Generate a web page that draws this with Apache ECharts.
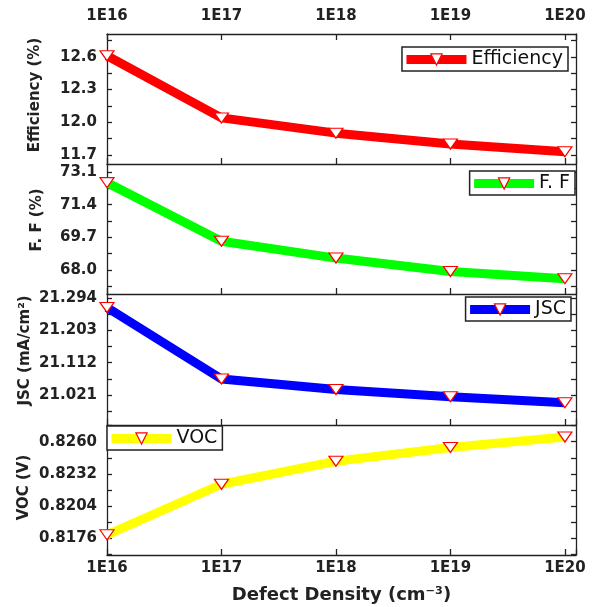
<!DOCTYPE html>
<html><head><meta charset="utf-8">
<script src="https://cdn.jsdelivr.net/npm/echarts@6/dist/echarts.min.js"></script>
<style>html,body{margin:0;padding:0;background:#fff}#c{width:597px;height:607px}</style>
</head><body><div id="c"></div>
<script>
// ---- data ----
const defectDensity = [1e16, 1e17, 1e18, 1e19, 1e20];
const efficiency = [12.61, 12.04, 11.90, 11.80, 11.73];
const fillFactor = [72.55, 69.50, 68.62, 67.92, 67.55];
const jsc = [21.268, 21.066, 21.036, 21.016, 20.999];
const voc = [0.8179, 0.8223, 0.8243, 0.8255, 0.8264];
const effTicks = [11.7, 12.0, 12.3, 12.6];
const ffTicks = [68.0, 69.7, 71.4, 73.1];
const jscTicks = [21.021, 21.112, 21.203, 21.294];
const vocTicks = [0.8176, 0.8204, 0.8232, 0.8260];
const seriesNames = ['Efficiency', 'F. F', 'JSC', 'VOC'];
const yNames = ['Efficiency (%)', 'F. F (%)', 'JSC (mA/cm²)', 'VOC (V)'];
const xName = 'Defect Density (cm⁻³)';

// ---- layout / style ----
const xMin = 1e16, xMax = 1.25e20;
const FONT = 'DejaVu Sans';
const panels = [
  {vals: efficiency, ticks: effTicks, dec: 1, min: 11.617, max: 12.81, color: '#ff0000', top: 34, h: 130, gap: 64, shift: 8,
   legend: {right: 29, top: 47}},
  {vals: fillFactor, ticks: ffTicks, dec: 1, min: 66.75, max: 73.52, color: '#00ff00', top: 164, h: 130, gap: 62, shift: 18,
   legend: {right: 22, top: 171}},
  {vals: jsc, ticks: jscTicks, dec: 3, min: 20.936, max: 21.306, color: '#0000ff', top: 294, h: 131, gap: 74, shift: 18,
   legend: {right: 26, top: 297}},
  {vals: voc, ticks: vocTicks, dec: 4, min: 0.81615, max: 0.82745, color: '#ffff00', top: 425, h: 130, gap: 75, shift: 5,
   legend: {left: 107, top: 426}}
];
const lineCfg = {color: '#222', width: 1.3};
const fmtX = v => { const e = Math.log10(v); const r = Math.round(e); return Math.abs(e - r) < 1e-6 ? '1E' + r : ''; };

function allTicks(t, min, max) {
  const step = t[1] - t[0];
  const out = [];
  for (let i = 0; i < t.length; i++) { out.push(t[i]); out.push(t[i] - step / 2); }
  out.push(t[t.length - 1] + step / 2);
  return out.filter(v => v > min && v < max);
}

const grid = [], xAxis = [], yAxis = [], series = [], legend = [];
panels.forEach((p, i) => {
  grid.push({left: 107, right: 21, top: p.top, height: p.h, outerBoundsMode: 'none', containLabel: false});
  const xBase = {
    type: 'log', logBase: 10, gridIndex: i, min: xMin, max: xMax,
    axisLine: {show: true, onZero: false, lineStyle: lineCfg},
    axisTick: {show: true, inside: true, length: 6, lineStyle: lineCfg},
    minorTick: {show: false}, splitLine: {show: false}
  };
  xAxis.push(Object.assign({}, xBase, {
    position: 'bottom',
    name: i === 3 ? xName : '', nameLocation: 'middle', nameGap: 31, nameMoveOverlap: false,
    nameTextStyle: {fontFamily: FONT, fontWeight: 'bold', fontSize: 18, color: '#222'},
    axisLabel: {show: i === 3, margin: 6, formatter: fmtX, color: '#222', fontFamily: FONT, fontWeight: 'bold', fontSize: 15}
  }));
  xAxis.push(Object.assign({}, xBase, {
    position: 'top',
    axisLine: {show: i === 0, onZero: false, lineStyle: lineCfg},
    axisTick: {show: i === 0, inside: true, length: 6, lineStyle: lineCfg},
    axisLabel: {show: i === 0, margin: 10, formatter: fmtX, color: '#222', fontFamily: FONT, fontWeight: 'bold', fontSize: 15}
  }));
  const tickVals = allTicks(p.ticks, p.min, p.max);
  const yBase = {
    type: 'value', gridIndex: i, min: p.min, max: p.max, scale: true,
    axisLine: {show: true, onZero: false, lineStyle: lineCfg},
    axisTick: {show: true, inside: true, length: 5, lineStyle: lineCfg, customValues: tickVals},
    splitLine: {show: false}
  };
  yAxis.push(Object.assign({}, yBase, {
    position: 'left',
    name: yNames[i], nameLocation: 'middle', nameGap: p.gap, nameRotate: 90, nameMoveOverlap: false,
    nameTextStyle: {fontFamily: FONT, fontWeight: 'bold', fontSize: 15, color: '#222', padding: [0, 0, 0, p.shift]},
    axisLabel: {show: true, customValues: p.ticks, margin: 10, formatter: v => v.toFixed(p.dec),
      color: '#222', fontFamily: FONT, fontWeight: 'bold', fontSize: 15}
  }));
  yAxis.push(Object.assign({}, yBase, {position: 'right', axisLabel: {show: false}}));
  series.push({
    type: 'line', name: seriesNames[i], xAxisIndex: 2 * i, yAxisIndex: 2 * i,
    data: defectDensity.map((x, j) => [x, p.vals[j]]),
    lineStyle: {color: p.color, width: 9},
    symbol: 'triangle', symbolRotate: 180, symbolSize: [14, 10], showAllSymbol: true,
    itemStyle: {color: '#fff', borderColor: '#ff0000', borderWidth: 1.2},
    emphasis: {disabled: true}, animation: false
  });
  legend.push(Object.assign({
    data: [seriesNames[i]], orient: 'horizontal', itemWidth: 60, itemHeight: 14,
    padding: [3, 5, 2, 0], borderColor: '#222', borderWidth: 1.5, borderRadius: 0, backgroundColor: '#fff',
    selectedMode: false,
    textStyle: {fontFamily: FONT, fontSize: 19, color: '#111'},
    lineStyle: {width: 9}, itemStyle: {borderWidth: 1.2}
  }, p.legend));
});

const chart = echarts.init(document.getElementById('c'), null, {renderer: 'canvas'});
chart.setOption({animation: false, backgroundColor: '#fff', grid, xAxis, yAxis, series, legend});
</script>
</body></html>
